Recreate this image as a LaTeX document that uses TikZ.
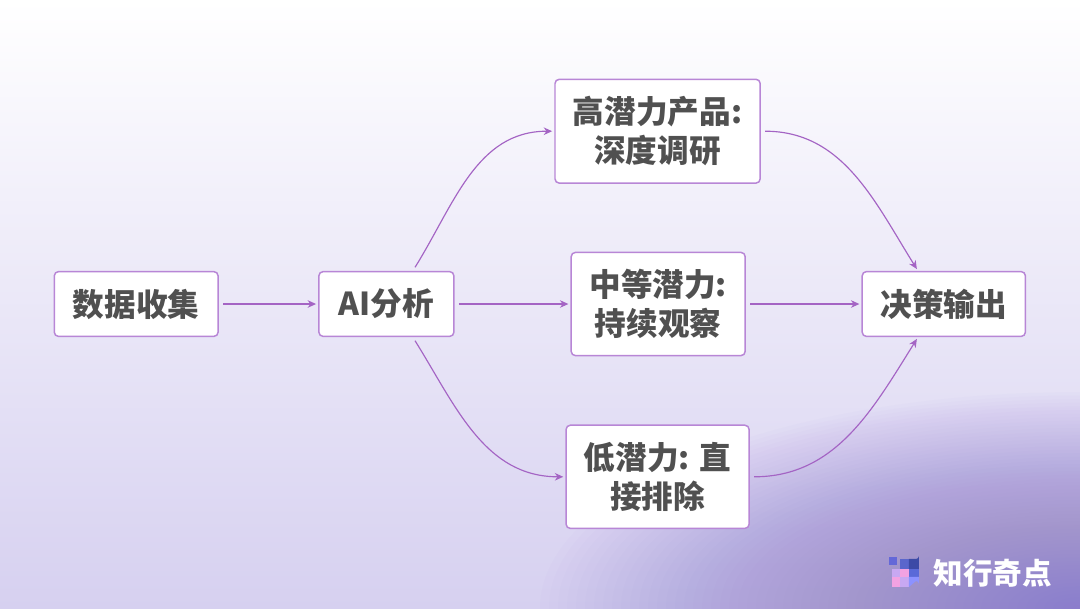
\documentclass[tikz,border=0pt]{standalone}
\usepackage{fontspec}
\setmainfont{Noto Sans CJK SC}
\usetikzlibrary{arrows.meta, positioning}
\definecolor{boxline}{RGB}{184, 134, 214}
\definecolor{flowline}{RGB}{164, 100, 196}
\definecolor{labelgray}{RGB}{80, 80, 80}
\definecolor{bgbottom}{RGB}{214, 208, 240}
\definecolor{cornerpurple}{RGB}{140, 122, 204}
\definecolor{icondot}{RGB}{100, 104, 216}
\definecolor{iconblue}{RGB}{90, 102, 204}
\definecolor{icondark}{RGB}{60, 74, 166}
\definecolor{iconlilac}{RGB}{200, 168, 242}
\definecolor{iconpink}{RGB}{242, 162, 226}
\definecolor{iconmid}{RGB}{90, 106, 216}
\definecolor{iconlight}{RGB}{140, 146, 255}

\tikzset{
  stagebox/.style={draw=boxline, line width=0.7pt, fill=white, rounded corners=2pt, inner sep=0pt, align=center, font=\bfseries\fontsize{15}{18.5}\selectfont, text=labelgray},
  flow/.style={draw=flowline, line width=0.55pt, -{Stealth[length=4pt, width=3.6pt]}, shorten <=2pt, shorten >=1pt}
}

\begin{document}
\begin{tikzpicture}
  \useasboundingbox (-9,-5.0667) rectangle (9,5.0667);

  % Background
  \begin{scope}
    \clip (-9,-5.0667) rectangle (9,5.0667);
    \fill[top color=white, bottom color=bgbottom] (-9,-5.0667) rectangle (9,5.0667);
    \foreach \k in {1,...,60}
      \fill[cornerpurple, opacity=0.025] (9,-5.0667) ellipse ({\k*0.15} and {\k*0.06});
  \end{scope}

  % Stages
  \node[stagebox, minimum width=2.73cm, minimum height=1.08cm] (collect) at (-6.73, 0) {数据收集};
  \node[stagebox, minimum width=2.25cm, minimum height=1.08cm] (analyse) at (-2.56, 0) {AI分析};
  \node[stagebox, minimum width=3.42cm, minimum height=1.73cm] (high) at (1.96, 2.88) {高潜力产品:\\深度调研};
  \node[stagebox, minimum width=2.9cm, minimum height=1.72cm] (medium) at (1.97, 0) {中等潜力:\\持续观察};
  \node[stagebox, minimum width=3.05cm, minimum height=1.72cm] (low) at (1.96, -2.88) {低潜力: 直\\接排除};
  \node[stagebox, minimum width=2.72cm, minimum height=1.08cm] (decide) at (6.73, 0) {决策输出};

  % Connectors
  \draw[flow] (collect) -- (analyse);
  \draw[flow] (analyse) -- (medium);
  \draw[flow] (medium) -- (decide);
  \draw[flow] ([xshift=0.44cm]analyse.north) to[out=58, in=180] (high.west);
  \draw[flow] ([xshift=0.44cm]analyse.south) to[out=-58, in=180] (low.west);
  \draw[flow] (high.east) to[out=0, in=122] ([xshift=-0.43cm]decide.north);
  \draw[flow] (low.east) to[out=0, in=-122] ([xshift=-0.43cm]decide.south);

  % Brand mark
  \begin{scope}[x=1cm/60, y=-1cm/60, shift={(-9cm,5.0667cm)}]
    \fill[icondot] (889,557) rectangle (897,565);
    \fill[iconblue] (900,559) rectangle (909,569);
    \fill[icondark] (909,569) -- (909,559) -- (916,559) arc[start angle=90, end angle=0, radius=3] -- (919,569) -- cycle;
    \fill[iconlilac] (892,569) rectangle (900,577);
    \fill[iconpink] (900,569) rectangle (909,577);
    \fill[iconmid] (909,569) rectangle (919,577);
    \fill[iconpink] (892,577) rectangle (900,587);
    \fill[iconlilac] (900,577) rectangle (909,587);
    \fill[iconlight] (909,577) -- (919,577) -- (919,584) arc[start angle=0, end angle=-90, radius=3] -- (909,587) -- cycle;
  \end{scope}
  \node[font=\bfseries\fontsize{14}{14}\selectfont, text=white] (brand) at (7.55, -4.48) {知行奇点};
\end{tikzpicture}
\end{document}
